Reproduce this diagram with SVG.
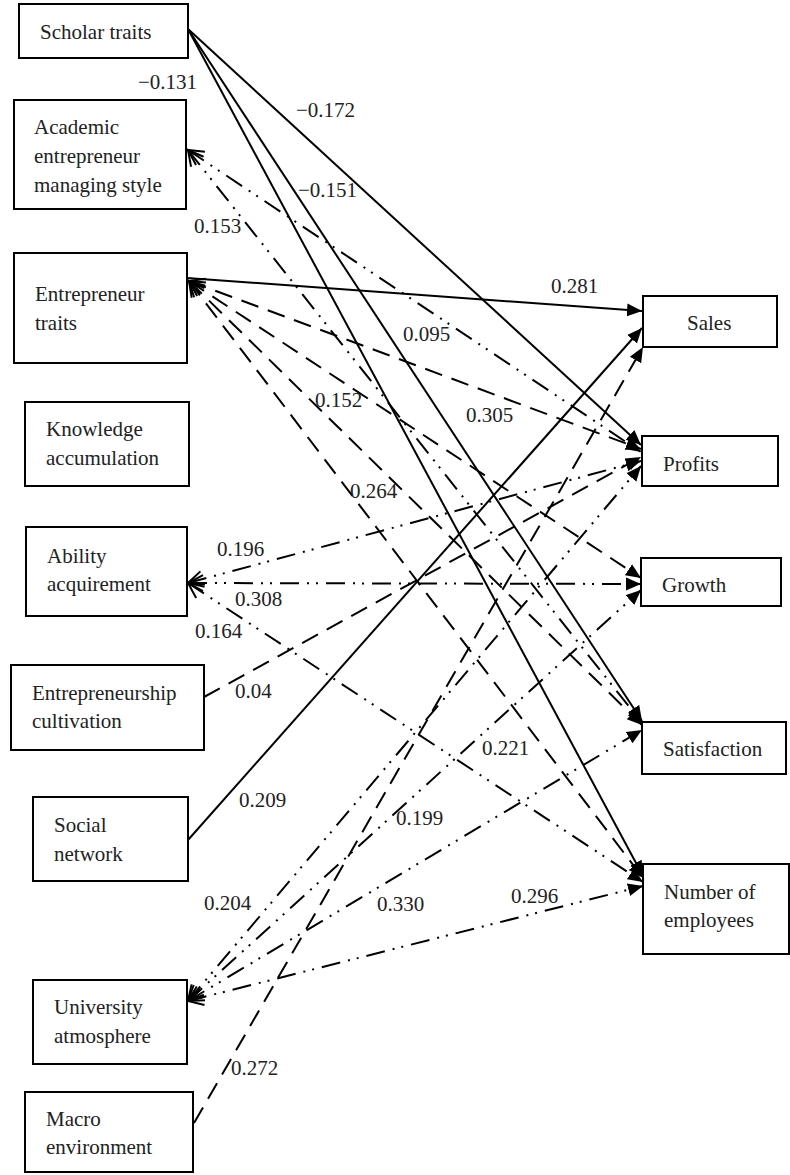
<svg xmlns="http://www.w3.org/2000/svg" width="790" height="1175" viewBox="0 0 790 1175">
<style>
.box{fill:#fff;stroke:#000;stroke-width:2}
.t{font-family:"Liberation Serif","Times New Roman",serif;font-size:21px;fill:#222}
.c{fill:none;stroke:#000;stroke-width:2}
.sol{marker-end:url(#arr)}
.dsh{stroke-dasharray:18 10;marker-end:url(#arr)}
.ddd{stroke-dasharray:19 8 2 7 2 8;marker-end:url(#arr)}
.os{marker-start:url(#open)}
</style>
<defs>
<marker id="arr" markerUnits="userSpaceOnUse" markerWidth="16" markerHeight="14" refX="15" refY="7" orient="auto"><path d="M0,0.5 L15,7 L0,13.5 z" fill="#000"/></marker>
<marker id="open" markerUnits="userSpaceOnUse" markerWidth="18" markerHeight="20" refX="16" refY="10" orient="auto-start-reverse"><path d="M1,2 L16,10 L1,18" fill="none" stroke="#000" stroke-width="2"/></marker>
</defs>
<g id="connectors">
<line class="c sol" x1="188" y1="29" x2="641" y2="445"/>
<line class="c sol" x1="188" y1="29" x2="642" y2="721"/>
<line class="c sol" x1="188" y1="29" x2="643" y2="876"/>
<line class="c ddd os" x1="188" y1="150" x2="641" y2="452"/>
<line class="c ddd os" x1="188" y1="150" x2="642" y2="723"/>
<line class="c sol" x1="187" y1="278" x2="642" y2="311"/>
<line class="c dsh os" x1="189" y1="281" x2="641" y2="449"/>
<line class="c dsh os" x1="189" y1="281" x2="641" y2="578"/>
<line class="c dsh os" x1="189" y1="281" x2="642" y2="725"/>
<line class="c dsh os" x1="189" y1="281" x2="643" y2="878"/>
<line class="c ddd os" x1="188" y1="583" x2="641" y2="461"/>
<line class="c ddd os" x1="188" y1="583" x2="641" y2="584"/>
<line class="c ddd os" x1="188" y1="583" x2="643" y2="882"/>
<line class="c dsh" x1="204" y1="697" x2="641" y2="457"/>
<line class="c sol" x1="188" y1="840" x2="642" y2="328"/>
<line class="c ddd os" x1="188" y1="1001" x2="641" y2="466"/>
<line class="c ddd os" x1="188" y1="1001" x2="641" y2="590"/>
<line class="c ddd os" x1="188" y1="1001" x2="642" y2="730"/>
<line class="c ddd os" x1="188" y1="1001" x2="643" y2="886"/>
<line class="c dsh" x1="194" y1="1123" x2="643" y2="347"/>
</g>
<g id="labels" class="t">
<text x="138" y="89">−0.131</text>
<text x="296" y="117">−0.172</text>
<text x="298" y="197">−0.151</text>
<text x="194" y="233">0.153</text>
<text x="551" y="293">0.281</text>
<text x="403" y="341">0.095</text>
<text x="466" y="422">0.305</text>
<text x="315" y="407">0.152</text>
<text x="350" y="498">0.264</text>
<text x="217" y="556">0.196</text>
<text x="235" y="606">0.308</text>
<text x="195" y="638">0.164</text>
<text x="235" y="698">0.04</text>
<text x="239" y="807">0.209</text>
<text x="482" y="755">0.221</text>
<text x="396" y="825">0.199</text>
<text x="204" y="910">0.204</text>
<text x="377" y="911">0.330</text>
<text x="511" y="903">0.296</text>
<text x="231" y="1075">0.272</text>
</g>
<g id="scholar"><rect class="box" x="19" y="4" width="169" height="54"/><text class="t" x="40" y="39">Scholar traits</text></g>
<g id="academic"><rect class="box" x="14" y="100" width="172" height="109"/><text class="t" x="34" y="134">Academic</text><text class="t" x="34" y="163">entrepreneur</text><text class="t" x="34" y="192">managing style</text></g>
<g id="entrepreneur-traits"><rect class="box" x="14" y="253" width="173" height="110"/><text class="t" x="35" y="301">Entrepreneur</text><text class="t" x="35" y="330">traits</text></g>
<g id="knowledge"><rect class="box" x="25" y="402" width="164" height="84"/><text class="t" x="46" y="436">Knowledge</text><text class="t" x="46" y="465">accumulation</text></g>
<g id="ability"><rect class="box" x="26" y="527" width="161" height="89"/><text class="t" x="47" y="563">Ability</text><text class="t" x="47" y="591">acquirement</text></g>
<g id="cultivation"><rect class="box" x="11" y="665" width="193" height="85"/><text class="t" x="32" y="700">Entrepreneurship</text><text class="t" x="32" y="728">cultivation</text></g>
<g id="social"><rect class="box" x="33" y="797" width="155" height="84"/><text class="t" x="54" y="832">Social</text><text class="t" x="54" y="861">network</text></g>
<g id="university"><rect class="box" x="33" y="980" width="154" height="84"/><text class="t" x="54" y="1014">University</text><text class="t" x="54" y="1043">atmosphere</text></g>
<g id="macro"><rect class="box" x="25" y="1092" width="168" height="80"/><text class="t" x="46" y="1126">Macro</text><text class="t" x="46" y="1154">environment</text></g>
<g id="sales"><rect class="box" x="643" y="296" width="134" height="51"/><text class="t" x="687" y="330">Sales</text></g>
<g id="profits"><rect class="box" x="642" y="436" width="136" height="50"/><text class="t" x="663" y="471">Profits</text></g>
<g id="growth"><rect class="box" x="641" y="558" width="140" height="48"/><text class="t" x="662" y="592">Growth</text></g>
<g id="satisfaction"><rect class="box" x="642" y="722" width="144" height="52"/><text class="t" x="663" y="756">Satisfaction</text></g>
<g id="employees"><rect class="box" x="643" y="864" width="146" height="90"/><text class="t" x="664" y="899">Number of</text><text class="t" x="664" y="927">employees</text></g>
</svg>
